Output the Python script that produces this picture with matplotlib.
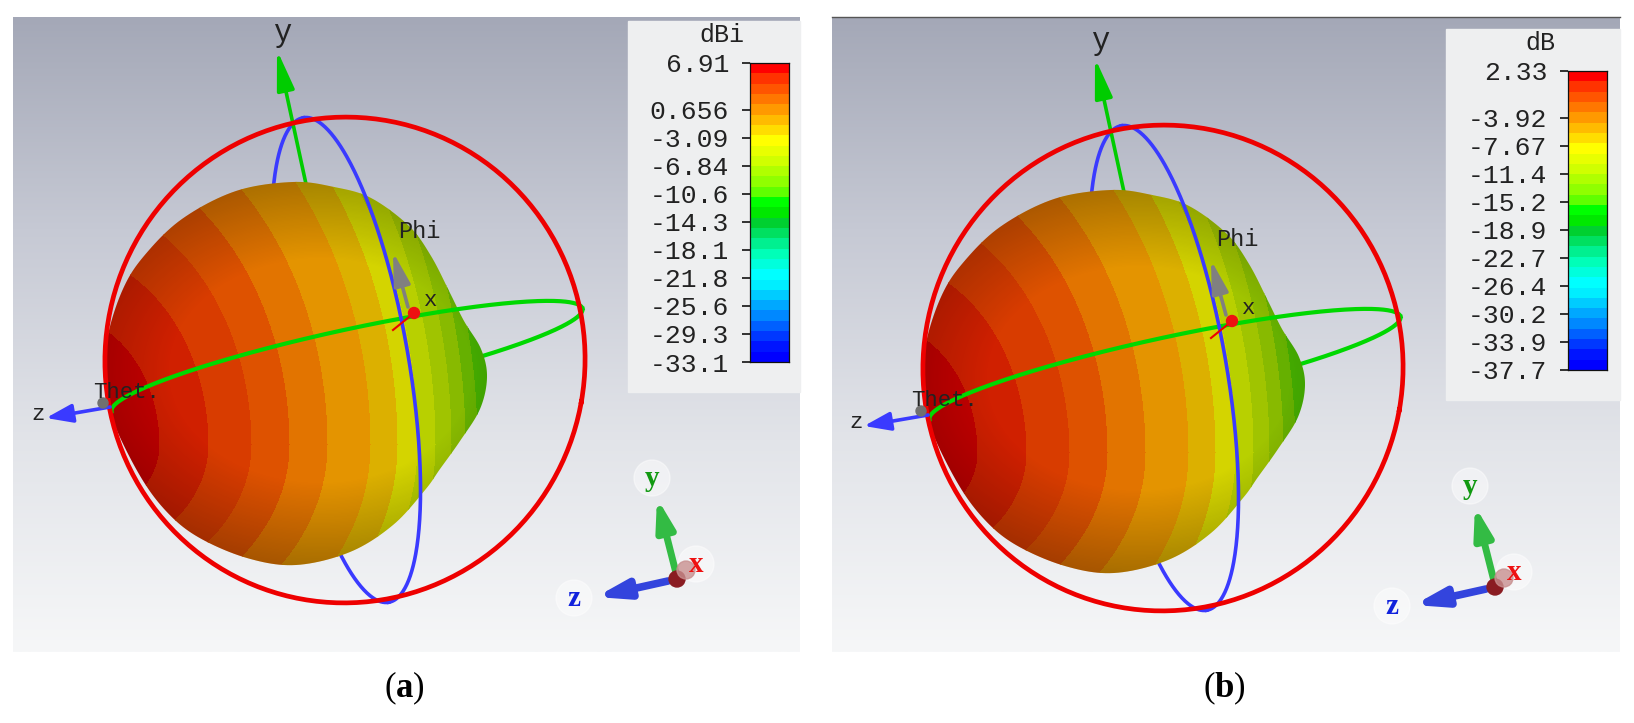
import numpy as np
import matplotlib
matplotlib.use("Agg")
import matplotlib.pyplot as plt
from matplotlib.colors import ListedColormap, LinearSegmentedColormap
from matplotlib.patches import Polygon, Ellipse, Rectangle, Circle

W, H = 1634, 723

# colour scale of the two panels
unit_a = "dBi"
ticks_a = [6.91, 0.656, -3.09, -6.84, -10.6, -14.3, -18.1, -21.8, -25.6, -29.3, -33.1]
labels_a = ["6.91", "0.656", "-3.09", "-6.84", "-10.6", "-14.3", "-18.1", "-21.8", "-25.6", "-29.3", "-33.1"]
unit_b = "dB"
ticks_b = [2.33, -3.92, -7.67, -11.4, -15.2, -18.9, -22.7, -26.4, -30.2, -33.9, -37.7]
labels_b = ["2.33", "-3.92", "-7.67", "-11.4", "-15.2", "-18.9", "-22.7", "-26.4", "-30.2", "-33.9", "-37.7"]
scale_colors = ["#0000ff", "#0014ff", "#0038ff", "#0060ff", "#0088ff", "#00a8ff", "#00ccff", "#00eeff", "#00ffff",
                "#00ffdc", "#00ffb8", "#00f090", "#00e060", "#00d030", "#00e800", "#00ff00", "#60ff00", "#90ff00",
                "#b0ff00", "#d0ff00", "#e8ff00", "#ffff00", "#ffdd00", "#ffbb00", "#ff9900", "#ff7700", "#ff5500",
                "#ff3300", "#ff0000"]

# silhouette of the far field lobe
lobe_x = [293, 334, 371, 409, 431, 450, 464, 481, 487, 480, 460, 440, 425, 393, 350, 296, 247, 198, 166, 139, 112,
          105, 108, 123, 144, 182, 236]
lobe_y = [182, 187, 198, 226, 256, 293, 321, 349, 377, 409, 441, 469, 490, 525, 552, 565, 558, 537, 511, 474, 418,
          377, 335, 289, 256, 219, 191]
# bands on the lobe, read along the row through its middle
band_edges = [60, 160, 209, 252, 290, 328, 371, 398, 418, 436, 452, 466, 478, 900]
band_colors = ["#c40000", "#d02000", "#d83c00", "#de5200", "#e27400", "#e49400", "#dcb000", "#d4d400", "#b8d000",
               "#a0c400", "#88ba00", "#66b000", "#44aa00"]

plt.rcParams["mathtext.fontset"] = "custom"
plt.rcParams["mathtext.bf"] = "Liberation Serif:bold"
plt.rcParams["mathtext.rm"] = "Liberation Serif"

fig = plt.figure(figsize=(W / 100, H / 100), dpi=100)
ax = fig.add_axes([0, 0, 1, 1])
backdrop = LinearSegmentedColormap.from_list("bg", ["#a4a8b7", "#c6c9d4", "#e2e4e9", "#f6f7f8"])
MONO = "Liberation Mono"


def ring(cx, cy, a, b, angle, start=0, stop=360):
    t = np.radians(np.linspace(start, stop, 300))
    r = np.radians(angle)
    x = a * np.cos(t)
    y = b * np.sin(t)
    return cx + x * np.cos(r) - y * np.sin(r), cy + x * np.sin(r) + y * np.cos(r)


def smooth_outline(x, y, n=12):
    # closed Catmull-Rom curve through the outline points
    p = np.column_stack([x, y]).astype(float)
    out = []
    for i in range(len(p)):
        p0, p1, p2, p3 = p[i - 1], p[i], p[(i + 1) % len(p)], p[(i + 2) % len(p)]
        for t in np.linspace(0, 1, n, endpoint=False):
            out.append(0.5 * (2 * p1 + (p2 - p0) * t + (2 * p0 - 5 * p1 + 4 * p2 - p3) * t ** 2
                              + (3 * p1 - p0 - 3 * p2 + p3) * t ** 3))
    return np.array(out)


def arrow(x0, y0, x1, y1, color, lw, head, z, ratio=0.25):
    ax.annotate("", xy=(x1, y1), xytext=(x0, y0), zorder=z,
                arrowprops=dict(arrowstyle=f"-|>,head_length={head},head_width={head * ratio}",
                                color=color, lw=lw, shrinkA=0, shrinkB=0))


def panel(dx, dy, left, right, unit, ticks, labels, letter):
    g = np.linspace(0, 1, 256).reshape(-1, 1)
    ax.imshow(g, extent=(left, right, 652, 17), cmap=backdrop, aspect="auto", zorder=1)

    # back halves of the cuts, the y stem
    x, y = ring(346 + dx, 360 + dy, 246, 62, 80, 0, 180)
    ax.plot(x, y, color="#3a3aff", lw=2.6, zorder=2)
    x, y = ring(347 + dx, 360 + dy, 241, 30, -12.3, 0, 180)
    ax.plot(x, y, color="#00d800", lw=3.0, zorder=2)
    arrow(306 + dx, 184 + dy, 277 + dx, 50 + dy, "#00cc00", 2.6, 2.4, 2, 0.22)

    # lobe: concentric bands with shading, clipped to the outline
    px = smooth_outline(np.array(lobe_x) + dx, np.array(lobe_y) + dy)
    xx, yy = np.meshgrid(np.arange(95, 505) + dx, np.arange(170, 575) + dy)
    ry = yy - (445 + dy)
    b = np.where(ry < 0, 1.3, 0.8)
    v = np.sqrt((xx - dx - band_edges[0]) ** 2 + (ry / b) ** 2) + band_edges[0]
    cs = ax.contourf(xx, yy, v, levels=band_edges, colors=band_colors, zorder=3, antialiased=False)
    cs.set_clip_path(Polygon(px, closed=True, transform=ax.transData))
    r = np.hypot(xx - dx - 320, (yy - dy - 370) * 1.35)
    shade = np.zeros(xx.shape + (4,))
    shade[..., 3] = np.clip((r - 150) / 130, 0, 1) * 0.3
    im = ax.imshow(shade, extent=(95 + dx, 505 + dx, 575 + dy, 170 + dy), aspect="auto", zorder=4)
    im.set_clip_path(Polygon(px, closed=True, transform=ax.transData))

    # front halves
    x, y = ring(347 + dx, 360 + dy, 241, 30, -12.3, 180, 360)
    ax.plot(x, y, color="#00d800", lw=3.0, zorder=5)
    x, y = ring(346 + dx, 360 + dy, 246, 62, 80, 180, 360)
    ax.plot(x, y, color="#3a3aff", lw=2.6, zorder=6)
    x, y = ring(345 + dx, 360 + dy, 240, 243, 10)
    ax.plot(x, y, color="#ee0000", lw=3.4, zorder=7)

    # local axes
    arrow(408 + dx, 307 + dy, 393 + dx, 252 + dy, "#808080", 2.6, 2.0, 8)
    ax.plot([393 + dx, 414 + dx], [330 + dy, 313 + dy], color="#ee0000", lw=1.5, zorder=8)
    ax.add_patch(Circle((414 + dx, 313 + dy), 5.5, color="#ee1111", zorder=8))
    arrow(110 + dx, 407 + dy, 46 + dx, 418 + dy, "#3a3aff", 2.6, 1.6, 8, 0.35)
    ax.add_patch(Circle((103 + dx, 403 + dy), 5, color="#707070", zorder=8))
    for s, tx, ty, fs in [("y", 282, 33, 22), ("Phi", 419, 232, 17), ("x", 431, 300, 16),
                          ("Thet.", 127, 392, 16), ("z", 38, 414, 16)]:
        ax.text(tx + dx, ty + dy, s, family=MONO, fontsize=fs, color="#222222", ha="center", va="center", zorder=9)

    # orientation triad
    for tx, ty, s, c in [(652, 478, "y", "#119911"), (574, 598, "z", "#1122dd"), (696, 564, "x", "#ee1111")]:
        ax.add_patch(Ellipse((tx + dx, ty + dy), 36, 36, color="white", alpha=0.45, zorder=8))
        ax.text(tx + dx, ty + dy, s, family="Liberation Serif", weight="bold", fontsize=21, color=c, ha="center",
                va="center", zorder=10)
    arrow(676 + dx, 573 + dy, 657 + dx, 498 + dy, "#33bb44", 5, 1.8, 9, 0.3)
    arrow(668 + dx, 581 + dy, 596 + dx, 597 + dy, "#3344dd", 5.5, 1.8, 9, 0.3)
    ax.add_patch(Circle((677 + dx, 579 + dy), 8, color="#8a1c22", zorder=9))
    ax.add_patch(Circle((686 + dx, 570 + dy), 9, color="#c89090", alpha=0.8, zorder=9))

    # colour scale box
    ax.add_patch(Rectangle((628 + dx, 21 + dy), right - 628 - dx, 371, color="#eeeff0", zorder=10))
    ax.text(722 + dx, 35 + dy, unit, family=MONO, fontsize=18, color="#222222", ha="center", va="center", zorder=11)
    cax = fig.add_axes([(750 + dx) / W, 1 - (362 + dy) / H, 39 / W, 299 / H])
    cax.imshow(np.arange(len(scale_colors)).reshape(-1, 1), cmap=ListedColormap(scale_colors), origin="lower",
               aspect="auto", extent=(0, 1, ticks[-1], ticks[0]))
    cax.set_xticks([])
    cax.set_yticks(ticks, labels, family=MONO, fontsize=19, color="#222222")
    cax.tick_params(axis="y", length=6, width=1.2, pad=9, color="#111111")
    for s in cax.spines.values():
        s.set_color("#111111")
        s.set_linewidth(0.9)

    ax.text((left + right) / 2 - 2, 688, rf"($\mathbf{{{letter}}}$)", family="Liberation Serif", fontsize=25,
            color="black", ha="center", va="center", zorder=11)


panel(0, 0, 13, 800, unit_a, ticks_a, labels_a, "a")
panel(818, 8, 832, 1620, unit_b, ticks_b, labels_b, "b")
ax.plot([832, 1620], [17, 17], color="#555555", lw=1, zorder=12)

ax.set_xlim(0, W)
ax.set_ylim(H, 0)
ax.axis("off")
fig.savefig("out.png", dpi=100)
